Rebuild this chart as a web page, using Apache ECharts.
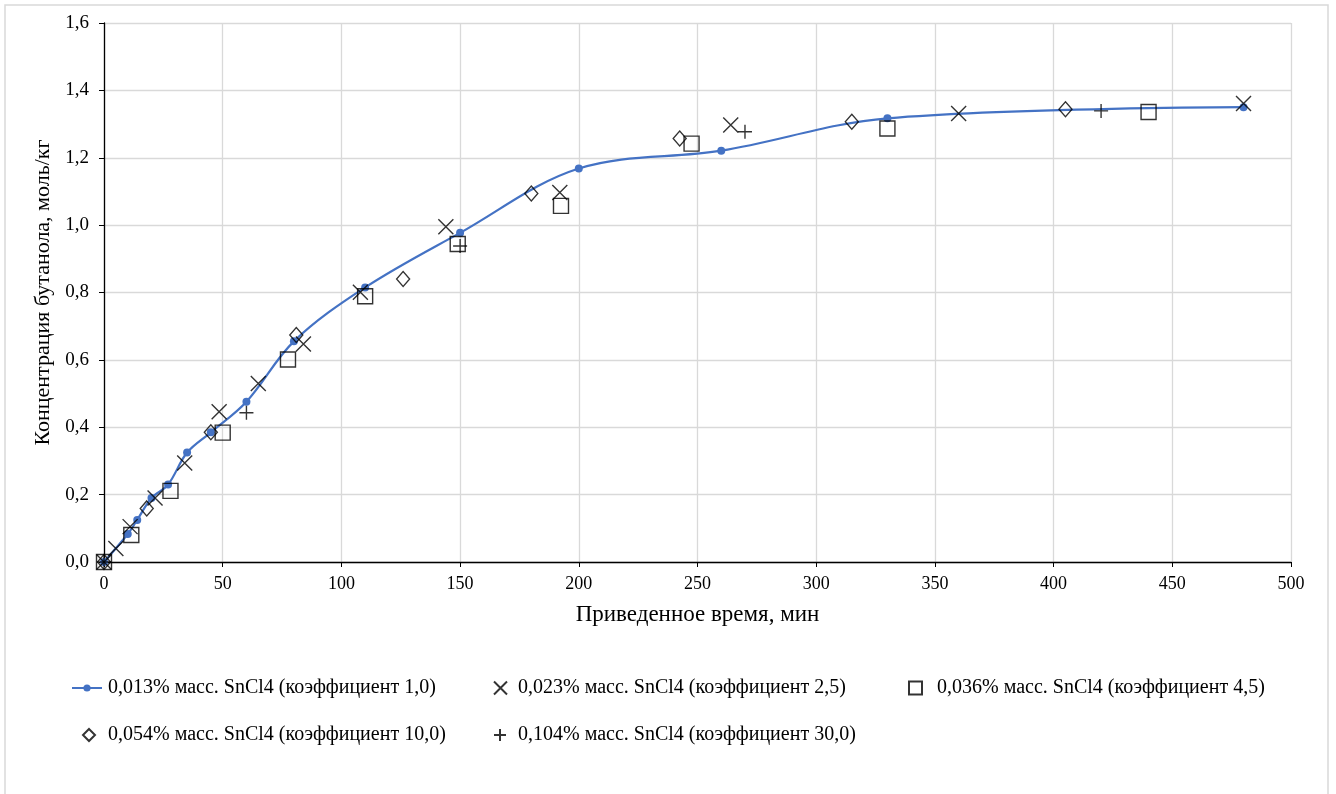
<!DOCTYPE html>
<html>
<head>
<meta charset="utf-8">
<script src="https://cdn.jsdelivr.net/npm/echarts@6/dist/echarts.min.js"></script>
<style>
  html, body { margin: 0; padding: 0; background: #ffffff; }
  #chart { width: 1336px; height: 794px; }
</style>
</head>
<body>
<div id="chart"></div>
<script>
// Butanol concentration vs. reduced time for different SnCl4 loadings
const seriesNames = [
  '0,013% масс. SnCl4 (коэффициент 1,0)',
  '0,023% масс. SnCl4 (коэффициент 2,5)',
  '0,036% масс. SnCl4 (коэффициент 4,5)',
  '0,054% масс. SnCl4 (коэффициент 10,0)',
  '0,104% масс. SnCl4 (коэффициент 30,0)'
];

// [time, min ; concentration, mol/kg]
const sn013 = [
  [0, 0], [10, 0.083], [14, 0.125], [20, 0.19], [27, 0.23], [35, 0.325],
  [45, 0.385], [60, 0.476], [80, 0.655], [110, 0.815], [150, 0.977],
  [200, 1.168], [260, 1.221], [330, 1.317], [480, 1.35]
];
const sn023 = [
  [0, 0], [5, 0.04], [11, 0.105], [21.5, 0.19], [34, 0.294], [48.5, 0.446],
  [65, 0.53], [84, 0.647], [108, 0.801], [144, 0.995], [192, 1.097],
  [264, 1.297], [360, 1.331], [480, 1.361]
];
const sn036 = [
  [0, 0], [11.5, 0.08], [28, 0.211], [50, 0.384], [77.5, 0.601], [110, 0.789],
  [149, 0.944], [192.5, 1.057], [247.5, 1.242], [330, 1.287], [440, 1.336]
];
const sn054 = [
  [0, 0], [18, 0.159], [45, 0.385], [81, 0.674], [126, 0.84], [180, 1.094],
  [242.5, 1.257], [315, 1.307], [405, 1.344]
];
const sn104 = [
  [0, 0], [60, 0.443], [150, 0.938], [270, 1.277], [420, 1.339]
];

const xTicks = { min: 0, max: 500, interval: 50 };
const yTicks = { min: 0, max: 1.6, interval: 0.2 };

const FONT = '"Liberation Serif", "Times New Roman", serif';
const CROSS = 'path://M0,0L10,10M10,0L0,10';
const PLUS = 'path://M5,0L5,10M0,5L10,5';

const hollow = { color: 'rgba(0,0,0,0)', borderColor: '#000000', borderWidth: 1.4 };

const chart = echarts.init(document.getElementById('chart'), null, { renderer: 'canvas' });

function legendAt(left, top, name, w, h, textGap) {
  return {
    orient: 'horizontal',
    left: left, top: top,
    itemWidth: w, itemHeight: h,
    selectedMode: false,
    textStyle: {
      fontFamily: FONT, fontSize: 20, color: '#000000',
      padding: [0, 0, 0, textGap]
    },
    data: [name]
  };
}

chart.setOption({
  animation: false,
  backgroundColor: '#ffffff',
  graphic: [{
    type: 'rect',
    shape: { x: 5, y: 5, width: 1323, height: 820 },
    style: { fill: 'none', stroke: '#d9d9d9', lineWidth: 1.5 },
    silent: true
  }],
  grid: { left: 104, right: 45, top: 23, bottom: 232, containLabel: false },
  xAxis: {
    type: 'value',
    min: xTicks.min, max: xTicks.max, interval: xTicks.interval,
    name: 'Приведенное время, мин',
    nameLocation: 'middle',
    nameGap: 41,
    nameTextStyle: { fontFamily: FONT, fontSize: 23, color: '#000000' },
    axisLine: { show: true, onZero: false, lineStyle: { color: '#000000', width: 1.3 } },
    axisTick: { show: true, inside: false, length: 5, lineStyle: { color: '#000000' } },
    axisLabel: { fontFamily: FONT, fontSize: 18, color: '#000000', margin: 13 },
    splitLine: { show: true, lineStyle: { color: '#d9d9d9', width: 1.3 } }
  },
  yAxis: {
    type: 'value',
    min: yTicks.min, max: yTicks.max, interval: yTicks.interval,
    name: 'Концентрация бутанола, моль/кг',
    nameLocation: 'middle',
    nameGap: 50,
    nameTextStyle: { fontFamily: FONT, fontSize: 22, color: '#000000' },
    axisLine: { show: true, lineStyle: { color: '#000000', width: 1.3 } },
    axisTick: { show: true, inside: false, length: 5, lineStyle: { color: '#000000' } },
    axisLabel: {
      fontFamily: FONT, fontSize: 19, color: '#000000', margin: 15,
      formatter: v => v.toFixed(1).replace('.', ',')
    },
    splitLine: { show: true, lineStyle: { color: '#d9d9d9', width: 1.3 } }
  },
  legend: [
    legendAt(66, 673, seriesNames[0], 30, 9, 1),
    legendAt(488, 673, seriesNames[1], 13, 13, 6),
    legendAt(903, 673, seriesNames[2], 13, 13, 10),
    legendAt(77, 720, seriesNames[3], 12, 12, 8),
    legendAt(488, 720, seriesNames[4], 12, 12, 7)
  ],
  series: [
    {
      name: seriesNames[0],
      type: 'line',
      data: sn013,
      smooth: 0.35,
      symbol: 'circle',
      symbolSize: 8,
      showAllSymbol: true,
      lineStyle: { color: '#4472C4', width: 2.2 },
      itemStyle: { color: '#4472C4' },
      z: 2
    },
    {
      name: seriesNames[1],
      type: 'scatter',
      data: sn023,
      symbol: CROSS,
      symbolSize: 15,
      itemStyle: hollow,
      z: 3
    },
    {
      name: seriesNames[2],
      type: 'scatter',
      data: sn036,
      symbol: 'rect',
      symbolSize: 15,
      itemStyle: hollow,
      z: 4
    },
    {
      name: seriesNames[3],
      type: 'scatter',
      data: sn054,
      symbol: 'diamond',
      symbolSize: [13, 15],
      itemStyle: hollow,
      z: 5
    },
    {
      name: seriesNames[4],
      type: 'scatter',
      data: sn104,
      symbol: PLUS,
      symbolSize: 14,
      itemStyle: hollow,
      z: 6
    }
  ]
});
</script>
</body>
</html>
